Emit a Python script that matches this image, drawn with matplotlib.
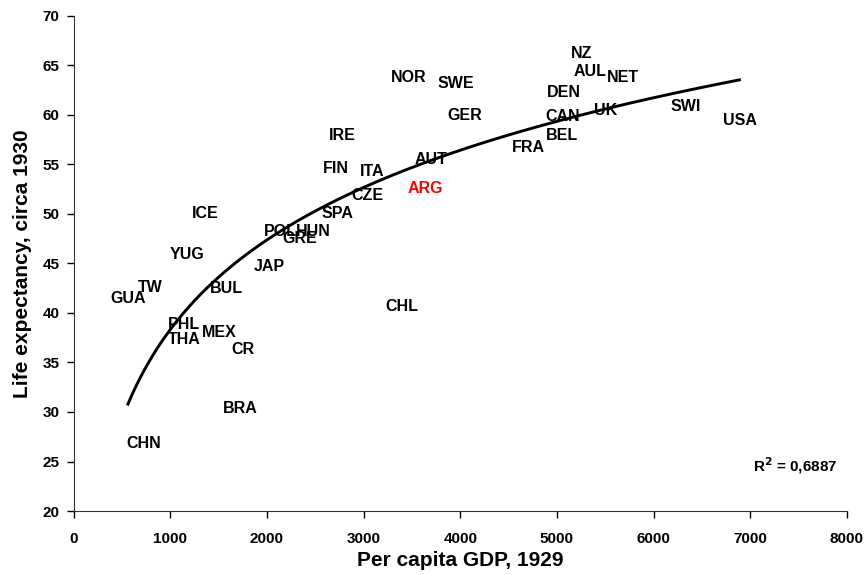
import numpy as np
import matplotlib
matplotlib.use("Agg")
import matplotlib.pyplot as plt

plt.rcParams["font.family"] = ["Liberation Sans", "DejaVu Sans"]
plt.rcParams["font.weight"] = "bold"

# ---- data ----
countries = ["NZ", "AUL", "NET", "NOR", "SWE", "DEN", "GER", "CAN", "UK", "SWI",
             "USA", "BEL", "FRA", "IRE", "AUT", "FIN", "ITA", "ARG", "CZE", "ICE",
             "SPA", "POL", "HUN", "GRE", "YUG", "JAP", "TW", "BUL", "GUA", "CHL",
             "PHL", "MEX", "THA", "CR", "BRA", "CHN"]
gdp = [5256, 5340, 5677, 3467, 3953, 5070, 4046, 5059, 5504, 6331,
       6888, 5049, 4708, 2775, 3695, 2713, 3085, 3643, 3044, 1359,
       2734, 2134, 2475, 2341, 1173, 2021, 791, 1576, 563, 3395,
       1142, 1504, 1142, 1752, 1721, 729]
life = [66.2, 64.4, 63.8, 63.8, 63.2, 62.3, 59.9, 59.8, 60.5, 60.9,
        59.4, 57.9, 56.7, 57.9, 55.5, 54.6, 54.3, 52.6, 51.9, 50.1,
        50.0, 48.2, 48.2, 47.5, 45.9, 44.7, 42.6, 42.5, 41.5, 40.7,
        38.8, 38.0, 37.3, 36.3, 30.4, 26.8]
highlight = "ARG"

gdp = np.array(gdp, dtype=float)
life = np.array(life, dtype=float)

# logarithmic trendline (Excel-style)
a, b = np.polyfit(np.log(gdp), life, 1)
xs = np.linspace(gdp.min(), gdp.max(), 300)
ys = a * np.log(xs) + b

fig = plt.figure(figsize=(8.68, 5.75), dpi=100)
ax = fig.add_axes([0.0847, 0.1113, 0.8911, 0.8609])

ax.plot(xs, ys, color="black", linewidth=2.1, zorder=1)

for name, x, y in zip(countries, gdp, life):
    ax.text(x, y, name, ha="center", va="center", fontsize=11.5, fontweight="bold",
            color="red" if name == highlight else "black", zorder=2)

ax.text(7900, 24.6, "R$^2$ = 0,6887", ha="right", va="center", fontsize=11,
        fontweight="bold")

ax.set_xlim(0, 8000)
ax.set_ylim(20, 70)
ax.set_xticks(range(0, 8001, 1000))
ax.set_yticks(range(20, 71, 5))
ax.tick_params(direction="out", length=5, width=1, labelsize=11)
ax.tick_params(axis="x", pad=10)
ax.tick_params(axis="y", pad=5)
for lbl in ax.get_xticklabels() + ax.get_yticklabels():
    lbl.set_fontweight("bold")

for side in ["top", "right"]:
    ax.spines[side].set_visible(False)
for side in ["left", "bottom"]:
    ax.spines[side].set_color("#333333")

ax.set_xlabel("Per capita GDP, 1929", fontsize=15, fontweight="bold", labelpad=4)
ax.set_ylabel("Life expectancy, circa 1930", fontsize=15, fontweight="bold", labelpad=8)

fig.savefig("out.png", dpi=100)
